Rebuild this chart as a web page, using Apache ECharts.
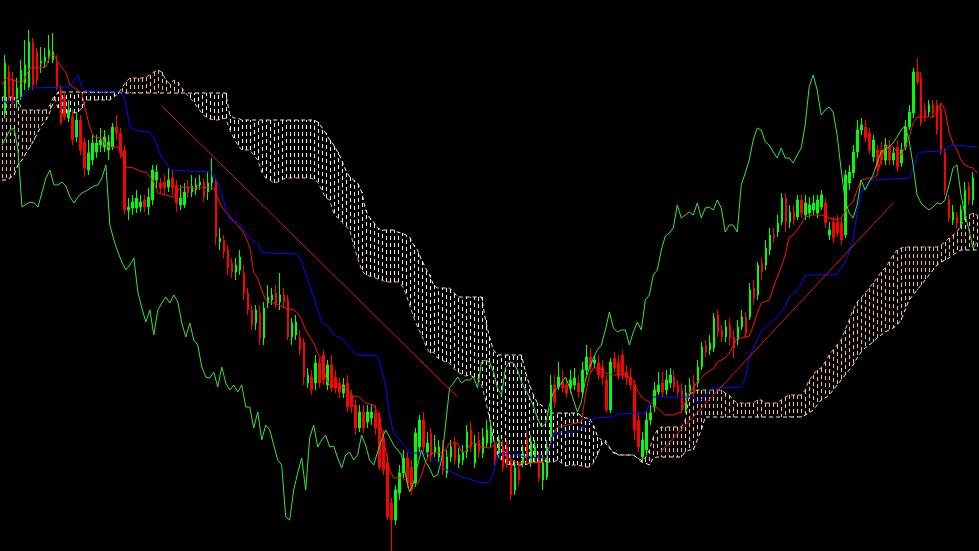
<!DOCTYPE html>
<html><head><meta charset="utf-8">
<script src="https://cdn.jsdelivr.net/npm/echarts/dist/echarts.min.js"></script>
<style>html,body{margin:0;padding:0;background:#000;}#c{width:979px;height:551px;}</style>
</head><body><div id="c"></div>
<script>
// Price levels are expressed on an inverted scale (0 = top of range, 551 = bottom).
// candle: [open, close, low-end, high-end]
const candles = [
[113,63,118,55],[72,95,100,65],[80,100,105,72],[102,88,108,78],[97,70,100,60],[83,65,90,40],[87,42,90,30],[42,85,90,38],[52,80,85,48],[63,61,73,47],
[62,57,68,48],[58,50,63,35],[60,52,63,33],[63,87,90,55],[90,123,125,85],[97,117,120,92],[118,110,122,100],[117,140,145,110],[137,120,142,112],[120,150,155,115],
[142,168,177,138],[170,153,175,140],[160,143,165,135],[152,143,158,135],[145,140,152,128],[147,137,152,130],[150,142,160,135],[147,127,150,123],[127,133,140,115],[133,153,158,128],
[150,210,215,145],[210,207,220,198],[208,202,215,195],[208,198,213,190],[207,202,212,195],[200,207,212,195],[207,197,215,188],[200,170,205,165],[180,172,188,165],[183,188,193,178],
[182,188,195,175],[187,180,192,168],[178,188,195,170],[185,203,212,180],[205,198,210,185],[205,192,208,183],[187,193,198,180],[192,186,197,175],[190,185,195,178],[185,182,190,175],
[182,197,202,178],[192,183,200,172],[183,177,190,158],[182,237,245,178],[242,238,250,228],[240,252,258,235],[250,268,275,245],[263,272,278,258],[272,265,280,258],[270,257,275,250],
[273,293,300,265],[293,310,315,288],[310,325,330,305],[323,310,330,305],[313,338,345,305],[338,308,345,302],[303,297,308,285],[300,295,305,288],[293,303,308,285],[302,295,310,273],
[295,302,308,288],[300,337,340,295],[337,323,345,318],[335,322,340,315],[337,350,355,330],[342,377,385,338],[383,375,388,368],[377,390,395,370],[383,363,390,355],[363,383,388,358],
[355,380,385,350],[385,365,390,360],[365,388,392,355],[377,388,393,370],[383,392,398,378],[393,385,398,378],[383,407,412,375],[395,407,413,390],[405,428,435,400],[428,412,432,405],
[412,428,433,405],[422,412,428,405],[418,412,425,405],[413,428,435,405],[418,467,470,412],[438,470,475,430],[463,517,520,455],[503,520,551,498],[520,490,525,485],[493,473,500,465],
[473,458,478,450],[458,483,488,452],[467,490,495,460],[483,433,487,428],[447,420,452,415],[420,447,452,412],[452,443,457,432],[433,457,462,428],[452,447,457,435],[457,447,462,440],
[447,470,475,440],[473,457,478,450],[457,447,462,440],[443,460,465,437],[463,455,468,448],[460,452,465,445],[452,432,458,425],[430,447,452,422],[463,443,468,435],[440,452,458,432],
[453,437,458,428],[443,430,448,420],[443,428,447,420],[445,460,465,440],[453,440,458,435],[447,467,472,440],[447,463,468,440],[463,495,500,455],[490,468,495,460],[470,480,485,462],
[463,453,467,445],[440,457,462,430],[463,442,467,435],[457,447,462,440],[460,478,482,452],[480,463,490,455],[477,447,480,440],[437,385,445,375],[385,402,408,375],[387,377,390,362],
[382,388,392,370],[385,393,398,378],[388,380,393,370],[385,378,390,368],[383,392,398,375],[392,370,397,362],[370,357,375,345],[357,367,372,348],[363,360,368,355],[363,375,380,355],
[367,378,385,360],[380,410,413,375],[410,362,413,358],[358,368,372,352],[363,375,380,355],[355,375,380,350],[372,378,385,365],[377,385,390,368],[385,430,440,380],[420,447,452,412],
[457,440,462,432],[450,420,455,410],[420,413,425,405],[407,390,412,382],[392,385,395,372],[383,392,397,372],[390,380,395,370],[383,375,388,368],[377,387,392,370],[385,392,397,380],
[390,410,413,383],[410,393,413,385],[393,385,397,378],[383,393,397,375],[383,367,387,360],[367,347,370,342],[345,352,357,340],[350,343,355,335],[348,318,352,313],[315,332,337,310],
[330,337,342,325],[337,327,342,320],[325,338,345,318],[337,348,358,330],[340,327,345,320],[327,317,330,310],[317,333,338,312],[317,290,320,283],[288,298,305,280],[295,265,300,262],
[263,272,280,258],[265,248,270,240],[250,235,255,228],[235,238,243,228],[232,223,237,215],[222,198,225,193],[198,222,232,193],[222,212,228,205],[212,220,225,205],[217,200,220,195],
[200,213,218,195],[215,203,220,195],[213,205,218,197],[210,203,215,195],[213,200,218,195],[207,195,210,190],[203,223,228,198],[235,230,240,222],[222,238,243,217],[222,233,237,215],
[223,240,245,218],[235,175,238,170],[183,172,190,165],[173,152,178,145],[152,130,158,120],[130,125,135,118],[127,138,142,120],[133,150,155,128],[157,140,162,135],[150,167,172,145],
[150,160,165,142],[160,145,165,138],[147,160,165,140],[160,153,165,147],[147,167,172,140],[163,150,167,143],[147,127,150,120],[127,112,130,105],[113,72,118,68],[72,82,85,58],
[78,123,126,72],[110,117,122,103],[112,105,116,100],[105,113,118,100],[105,130,135,100],[110,150,155,105],[153,190,195,148],[200,218,222,195],[220,212,225,205],[217,223,228,212],
[223,210,228,205],[215,190,220,182],[187,200,205,182],[200,178,205,172]
];

const tenkan = [[0,85],[1,78],[3,80],[5,83],[7,68],[9,68],[11,67],[12,55],[13,55],[14,62],[16,73],[17,85],[20,93],[21,112],[22,127],[23,137],[25,138],[26,145],[27,147],[29,147],[30,153],[31,167],[33,168],[35,172],[36,172],[38,182],[39,193],[41,195],[43,197],[44,190],[45,187],[48,188],[50,188],[52,187],[53,188],[55,207],[56,212],[60,230],[61,237],[62,247],[63,273],[64,278],[65,290],[66,300],[67,302],[68,303],[71,308],[73,310],[74,313],[75,320],[76,330],[78,343],[79,353],[80,360],[81,377],[82,385],[84,387],[86,388],[87,393],[88,397],[89,396],[91,403],[93,405],[94,412],[95,430],[96,450],[97,470],[98,478],[100,478],[101,480],[102,483],[103,487],[104,484],[105,475],[106,462],[107,454],[110,452],[111,450],[112,443],[114,443],[115,452],[116,452],[117,445],[118,443],[120,447],[122,448],[124,443],[125,443],[126,455],[127,460],[128,461],[129,463],[132,463],[135,462],[136,460],[137,447],[138,433],[139,427],[145,422],[146,395],[147,375],[148,368],[150,368],[151,373],[153,375],[156,375],[157,377],[158,381],[159,390],[160,397],[161,400],[162,402],[164,408],[165,412],[166,415],[168,415],[170,412],[171,402],[172,393],[174,382],[176,374],[177,371],[178,369],[179,362],[181,358],[182,353],[183,345],[184,339],[186,337],[187,336],[188,326],[189,313],[190,303],[192,300],[193,288],[194,277],[195,267],[196,255],[197,237],[198,235],[199,230],[200,224],[201,217],[203,215],[205,215],[207,218],[209,220],[210,218],[211,212],[212,205],[213,202],[214,190],[215,180],[217,178],[218,178],[219,175],[220,160],[221,147],[222,145],[223,147],[224,151],[225,155],[226,147],[227,138],[228,123],[229,117],[233,117],[234,112],[235,103],[236,110],[237,132],[238,143],[239,150],[240,160],[241,165],[242,167],[243,168],[244,173]];

const kijun = [[0,102],[3,101],[5,97],[6,90],[7,88],[16,87],[17,87],[18,80],[19,75],[20,87],[21,91],[30,92],[31,105],[32,127],[34,131],[37,132],[38,138],[39,148],[40,158],[41,163],[42,170],[52,172],[53,174],[54,183],[55,195],[56,208],[57,220],[59,222],[60,226],[61,233],[62,238],[64,244],[65,252],[67,253],[74,254],[75,262],[76,274],[77,286],[78,298],[79,310],[80,322],[82,328],[83,335],[85,338],[86,343],[87,347],[88,352],[89,355],[94,356],[95,370],[96,385],[97,415],[98,433],[100,442],[101,447],[102,453],[106,453],[107,455],[109,461],[110,466],[111,469],[113,473],[115,477],[117,479],[119,482],[122,483],[123,473],[124,455],[125,453],[128,454],[131,457],[136,458],[137,450],[138,433],[140,432],[144,432],[145,428],[147,423],[148,418],[153,417],[154,414],[161,413],[162,405],[163,397],[173,397],[174,402],[175,400],[177,391],[178,388],[185,387],[186,378],[187,358],[188,348],[190,332],[192,324],[194,317],[196,306],[197,297],[198,294],[199,290],[200,284],[201,275],[208,275],[209,274],[210,268],[211,262],[212,252],[213,240],[214,213],[215,193],[216,184],[217,181],[218,180],[227,178],[228,170],[229,155],[230,152],[236,151],[237,146],[238,145],[244,147]];

const chikou = [[0,145],[2,130],[3,128],[4,150],[5,207],[7,202],[8,203],[9,207],[11,178],[12,170],[13,185],[14,185],[15,182],[16,186],[17,197],[18,203],[19,197],[20,193],[21,191],[23,186],[24,185],[25,178],[26,165],[27,225],[28,240],[29,252],[30,262],[31,270],[32,265],[33,258],[34,292],[35,308],[36,322],[37,310],[38,335],[39,310],[40,303],[41,297],[42,303],[43,295],[44,302],[45,323],[46,337],[47,323],[48,340],[49,345],[50,367],[51,377],[52,378],[53,372],[54,387],[55,367],[56,383],[57,390],[58,385],[59,392],[60,385],[61,407],[62,407],[63,428],[64,412],[65,440],[66,425],[67,430],[68,445],[69,460],[70,465],[71,517],[72,520],[73,490],[74,473],[75,458],[76,490],[77,438],[78,425],[79,447],[80,440],[81,435],[82,447],[83,446],[84,458],[85,468],[86,455],[87,452],[88,460],[89,455],[90,435],[91,445],[92,460],[93,465],[94,452],[95,440],[96,430],[97,437],[98,445],[99,450],[100,455],[101,475],[102,492],[103,483],[104,465],[105,450],[106,462],[107,468],[108,477],[109,475],[110,460],[111,425],[112,388],[113,383],[114,377],[115,383],[116,380],[117,380],[118,377],[119,388],[120,362],[121,360],[122,362],[123,372],[124,388],[125,395],[126,368],[127,362],[128,363],[129,370],[130,382],[131,390],[132,397],[133,406],[134,418],[135,427],[136,424],[137,405],[138,392],[139,388],[140,383],[141,377],[142,387],[143,400],[144,412],[145,402],[146,380],[147,368],[148,358],[149,350],[150,345],[151,330],[152,312],[153,328],[154,332],[155,330],[156,330],[157,345],[158,332],[159,322],[160,330],[161,300],[162,295],[163,275],[164,270],[165,250],[166,236],[167,233],[168,228],[169,205],[170,218],[171,215],[172,212],[173,215],[174,203],[175,218],[176,208],[177,207],[178,210],[179,200],[180,208],[181,232],[182,225],[183,225],[184,232],[185,185],[186,173],[187,160],[188,140],[189,128],[190,130],[191,142],[192,145],[193,152],[194,158],[195,148],[196,158],[197,158],[198,163],[199,155],[200,148],[201,125],[202,87],[203,75],[204,90],[205,115],[206,110],[207,107],[208,112],[209,135],[210,170],[211,200],[212,213],[213,218],[214,205],[215,180],[216,190],[217,182],[218,175],[219,163],[220,152],[221,149],[222,147],[223,143],[224,137],[225,130],[226,126],[227,140],[228,165],[229,195],[230,203],[231,207],[232,210],[233,207],[234,203],[235,204],[236,200],[237,185],[238,168],[239,165],[240,195],[241,215],[242,230],[243,248],[244,242]];

const spanA = [
97,97,97,97,100,110,110,110,110,110,110,110,105,96,
108,113,113,112,113,112,108,100,100,100,100,100,100,100,97,94,
88,82,78,78,78,78,77,75,72,70,72,80,84,80,82,88,
93,98,102,108,113,117,119,120,120,119,118,130,138,145,150,150,150,155,160,172,178,180,183,182,180,178,
178,178,178,178,178,178,
179,182,190,198,200,213,218,222,226,230,245,258,270,275,276,277,279,280,282,
282,282,282,
285,293,305,317,327,335,345,353,352,358,360,362,363,368,372,374,376,375,377,378,385,400,418,440,455,460,463,
465,465,465,465,465,
463,
462,462,462,462,462,462,
460,463,466,
465,465,465,
466,467,467,463,455,445,440,447,453,455,
455,455,455,455,
458,460,458,450,437,430,
427,427,427,427,427,427,
420,395,392,
390,390,390,390,390,390,390,
393,395,400,
403,403,403,403,403,
400,400,
403,403,403,403,
400,397,
395,395,395,395,
390,380,375,370,368,362,355,350,345,340,330,320,310,302,298,293,288,283,278,272,268,262,255,250,248,
247,247,247,247,247,247,247,247,247,
245,242,238,235,232,225,218,215,213,215
];

const spanB = [
180,180,178,175,165,160,153,147,140,132,125,120,112,100,
92,92,92,92,92,92,92,92,92,92,92,92,92,92,92,92,
93,93,93,93,93,93,93,93,93,93,93,93,93,93,93,93,
93,93,93,93,93,93,93,93,93,93,93,
115,118,118,120,
120,120,120,120,120,120,120,120,120,120,120,120,120,120,120,120,120,120,
122,127,133,140,145,152,160,170,177,180,183,192,210,218,222,228,
230,230,230,230,
232,233,235,237,245,250,260,268,275,285,
288,288,288,288,
292,
297,297,297,297,297,297,297,
320,337,350,
355,355,355,355,355,355,355,
372,385,395,403,405,410,
413,413,413,413,413,413,413,413,
416,418,418,425,436,440,443,448,452,454,
455,455,455,455,
458,462,463,465,458,
457,457,457,457,457,457,457,
452,450,450,440,430,417,
417,417,417,417,417,417,417,417,417,417,417,417,417,417,417,417,417,417,417,417,417,417,417,417,
415,413,410,405,400,398,395,390,385,380,375,370,365,358,352,348,345,342,338,335,332,330,328,325,320,310,300,295,290,285,280,275,270,265,262,260,258,255,252,
250,250,250,250,250
];

const trendLines = [
  [[40,106],[114,397]],
  [[165,451],[223,203]]
];

const BAR_COUNT = 245;
const bars = [];
for (let i = 0; i < BAR_COUNT; i++) bars.push(String(i + 1));

const PEACH = '#f2b98c';
const WHITE = '#f0f0f0';
const UP = '#00ff00';
const DOWN = '#ff0000';

const cloudData = [];
for (let i = 0; i < BAR_COUNT; i++) {
  if (spanA[i] != null && spanB[i] != null) cloudData.push([i, spanA[i], spanB[i]]);
}

// Values increase downward on the inverted scale, so a rising candle has close < open.
const candleData = candles.map(d => [d[0], d[1], Math.min(d[2], d[3]), Math.max(d[2], d[3])]);

const chart = echarts.init(document.getElementById('c'), null, {renderer: 'canvas'});
const thinLine = (name, data, color, z, extra) => Object.assign({
  name, type: 'line', data, z, symbol: 'none', showSymbol: false, silent: true,
  lineStyle: {color, width: 1}, emphasis: {disabled: true}
}, extra || {});

chart.setOption({
  backgroundColor: '#000000',
  animation: false,
  grid: [
    {left: 0, right: 0, top: 0, bottom: 0},
    {left: 3, right: -3, top: 0, bottom: 0}
  ],
  xAxis: [
    {type: 'category', data: bars, boundaryGap: true, show: false, gridIndex: 0},
    {type: 'category', data: bars, boundaryGap: true, show: false, gridIndex: 1}
  ],
  yAxis: [
    {type: 'value', min: 0, max: 551, inverse: true, show: false, gridIndex: 0},
    {type: 'value', min: 0, max: 551, inverse: true, show: false, gridIndex: 1}
  ],
  series: [
    {
      type: 'custom', name: 'kumo', z: 1, silent: true,
      data: cloudData, encode: {x: 0, y: [1, 2]},
      renderItem: function (params, api) {
        const i = api.value(0), a = api.value(1), b = api.value(2);
        const p1 = api.coord([i, a]), p2 = api.coord([i, b]);
        const x = Math.round(p1[0]) + 0.5;
        return {
          type: 'line',
          shape: {x1: x, y1: p1[1], x2: x, y2: p2[1]},
          style: {stroke: a < b ? PEACH : WHITE, lineWidth: 1, lineDash: [4, 3]}
        };
      }
    },
    thinLine('Senkou Span A', spanA, PEACH, 2, {lineStyle: {color: PEACH, width: 1, type: [4, 3]}}),
    thinLine('Senkou Span B', spanB, WHITE, 2, {lineStyle: {color: WHITE, width: 1, type: [4, 3]}}),
    {
      type: 'candlestick', name: 'price', z: 3, silent: true,
      xAxisIndex: 1, yAxisIndex: 1,
      data: candleData, barWidth: 2,
      itemStyle: {color: DOWN, color0: UP, borderColor: DOWN, borderColor0: UP, borderWidth: 1}
    },
    thinLine('Tenkan-sen', tenkan, '#ff1010', 4),
    thinLine('Kijun-sen', kijun, '#0a0aff', 4),
    thinLine('Chikou Span', chikou, '#3ee03e', 4),
    thinLine('trend1', trendLines[0], '#e01a1a', 5),
    thinLine('trend2', trendLines[1], '#e01a1a', 5)
  ]
});
</script></body></html>
